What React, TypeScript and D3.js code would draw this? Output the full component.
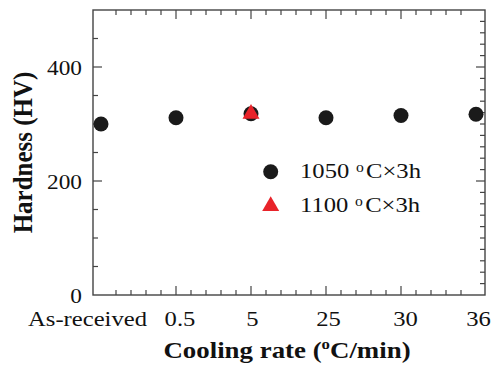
import React from "react";
import * as d3 from "d3";

const categories = ["As-received", "0.5", "5", "25", "30", "36"];
const hardness1050 = [300, 311, 318, 311, 315, 317];
const tri1100Category = ["5"];
const hardness1100 = [318];
const yTicks = [0, 200, 400];

const W = 491;
const H = 370;
const L = 93, R = 485, T = 10, B = 295;
const FONT = "Liberation Serif, Tinos, Times New Roman, DejaVu Serif, serif";
const SX = 1.12;

function SText(props: {
  x: number; y: number; anchor?: string; size: number; bold?: boolean; dy?: string; sx?: number; children: React.ReactNode;
}) {
  const { x, y, anchor = "start", size, bold, dy, sx = SX, children } = props;
  return (
    <g transform={`translate(${x},${y}) scale(${sx},1)`}>
      <text x={0} y={0} dy={dy} textAnchor={anchor} fontSize={size} fontWeight={bold ? "bold" : "normal"} fill="#111" style={{ fontFamily: FONT }}>
        {children}
      </text>
    </g>
  );
}

export default function App() {
  const x = d3.scaleLinear().domain([-8 / 75, 384 / 75]).range([L, R]);
  const y = d3.scaleLinear().domain([0, 500]).range([B, T]);
  const idx = (c: string) => categories.indexOf(c);

  const xMinor = d3.range(1, 25).map((i) => i * 0.2);
  const leftTicks = d3.range(50, 500, 50);
  const rightTicks = d3.range(20, 500, 20);
  const axisColor = "#444";
  const tri = d3.symbol().type(d3.symbolTriangle).size(125)();
  const labelDx = [-13.5, 4, 1.5, 2.5, 4.5, 2.5];

  return (
    <svg width={W} height={H} style={{ position: "absolute", left: 0, top: 0, fontFamily: FONT }}>
      <rect x={0} y={0} width={W} height={H} fill="#fff" />
      {xMinor.map((v, i) => {
        const major = Math.abs(v - Math.round(v)) < 1e-6;
        const len = major ? 9 : 5;
        const px = x(v);
        return (
          <g key={"xt" + i} stroke={axisColor} strokeWidth={1.2}>
            <line x1={px} x2={px} y1={B} y2={B - len} />
            <line x1={px} x2={px} y1={T} y2={T + len} />
          </g>
        );
      })}
      {leftTicks.map((v) => {
        const len = v % 200 === 0 ? 9 : 5;
        return <line key={"lt" + v} x1={L} x2={L + len} y1={y(v)} y2={y(v)} stroke={axisColor} strokeWidth={1.2} />;
      })}
      {rightTicks.map((v) => {
        const len = v % 200 === 0 ? 9 : 5;
        return <line key={"rt" + v} x1={R} x2={R - len} y1={y(v)} y2={y(v)} stroke={axisColor} strokeWidth={1.2} />;
      })}
      <rect x={L} y={T} width={R - L} height={B - T} fill="none" stroke={axisColor} strokeWidth={1.4} />

      {yTicks.map((v) => (
        <SText key={"yl" + v} x={L - 11} y={y(v)} dy="0.35em" anchor="end" size={22} sx={1.06}>
          {v}
        </SText>
      ))}
      {categories.map((c, i) => (
        <SText key={"xl" + c} x={x(i) + labelDx[i]} y={326} anchor="middle" size={22}>
          {c}
        </SText>
      ))}

      {hardness1050.map((v, i) => (
        <circle key={"c" + i} cx={x(i)} cy={y(v)} r={7.5} fill="#1a1a1a" />
      ))}
      {hardness1100.map((v, i) => (
        <path key={"t" + i} d={tri as string} transform={`translate(${x(idx(tri1100Category[i]))},${y(v)})`} fill="#e8232a" />
      ))}

      <circle cx={270.7} cy={171.7} r={7.5} fill="#1a1a1a" />
      <SText x={300} y={178} size={22}>
        1050
        <tspan dx={6} dy={-6.5} fontSize={14}>o</tspan>
        <tspan dx={2} dy={6.5}>C×3h</tspan>
      </SText>
      <path d={tri as string} transform="translate(270.7,206)" fill="#e8232a" />
      <SText x={300} y={212} size={22}>
        1100
        <tspan dx={6} dy={-6.5} fontSize={14}>o</tspan>
        <tspan dx={2} dy={6.5}>C×3h</tspan>
      </SText>

      <g transform={`translate(32,${(T + B) / 2}) rotate(-90)`}>
        <g transform="scale(1,1.06)">
          <text x={0} y={0} textAnchor="middle" fontSize={25} fontWeight="bold" fill="#111" style={{ fontFamily: FONT }}>
            Hardness (HV)
          </text>
        </g>
      </g>
      <SText x={287} y={358} anchor="middle" size={24} bold>
        Cooling rate (<tspan dy={-9} fontSize={15}>o</tspan><tspan dy={9}>C/min)</tspan>
      </SText>
    </svg>
  );
}
